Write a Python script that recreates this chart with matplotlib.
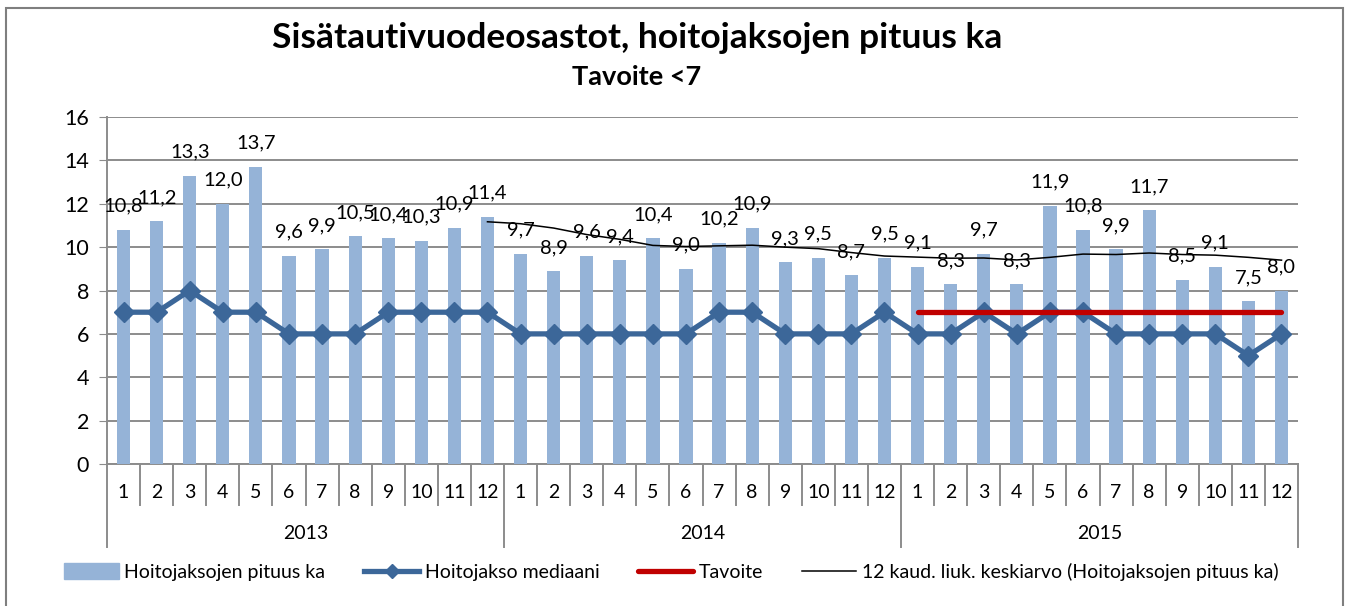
"""Sisätautivuodeosastot - hoitojaksojen pituus, 2013-2015."""

import matplotlib
matplotlib.use("Agg")
import matplotlib.pyplot as plt
from matplotlib.lines import Line2D
from matplotlib.patches import Patch, Rectangle
from matplotlib.transforms import blended_transform_factory

plt.rcParams["font.family"] = ["Lato", "DejaVu Sans"]

years = ["2013", "2014", "2015"]
months = [str(m) for m in range(1, 13)]

# hoitojaksojen pituus ka (bars)
pituus_ka = [
    10.8, 11.2, 13.3, 12.0, 13.7, 9.6, 9.9, 10.5, 10.4, 10.3, 10.9, 11.4,
    9.7, 8.9, 9.6, 9.4, 10.4, 9.0, 10.2, 10.9, 9.3, 9.5, 8.7, 9.5,
    9.1, 8.3, 9.7, 8.3, 11.9, 10.8, 9.9, 11.7, 8.5, 9.1, 7.5, 8.0,
]
# hoitojakso mediaani
mediaani = [
    7, 7, 8, 7, 7, 6, 6, 6, 7, 7, 7, 7,
    6, 6, 6, 6, 6, 6, 7, 7, 6, 6, 6, 7,
    6, 6, 7, 6, 7, 7, 6, 6, 6, 6, 5, 6,
]
# 12 kauden liukuva keskiarvo (starts at 2013/12)
liuk_ka = [
    11.17, 11.08, 10.88, 10.58, 10.36, 10.08, 10.03, 10.06, 10.09, 10.0,
    9.93, 9.75, 9.59, 9.54, 9.49, 9.50, 9.41, 9.53, 9.68, 9.66, 9.73,
    9.66, 9.63, 9.53, 9.40,
]
tavoite = 7
tavoite_start = 24  # index of 2015/1

bar_color = "#95B3D7"
median_color = "#3C6799"
target_color = "#C00000"
grid_color = "#8C8C8C"

n = len(pituus_ka)
x = list(range(n))

fig = plt.figure(figsize=(13.51, 6.06), dpi=100)
ax = fig.add_axes([0.0792, 0.2343, 0.8816, 0.5726])

ax.bar(x, pituus_ka, width=0.4, color=bar_color, zorder=2)
ax.plot(x, mediaani, color=median_color, lw=3.8, marker="D", ms=10.5,
        zorder=4)
ax.plot(x[tavoite_start:], [tavoite] * (n - tavoite_start),
        color=target_color, lw=3.8, solid_capstyle="round", zorder=5)
x_ma = x[n - len(liuk_ka):]
ax.plot(x_ma, liuk_ka, color="black", lw=1.1, zorder=3)

for xi, v in zip(x, pituus_ka):
    ax.annotate(f"{v:.1f}".replace(".", ","), (xi, v), xytext=(0, 17),
                textcoords="offset points", ha="center", va="center",
                fontsize=14.5, zorder=6)

ax.set_xlim(-0.5, n - 0.5)
ax.set_ylim(0, 16)
ax.set_yticks(range(0, 17, 2))
ax.tick_params(axis="y", labelsize=15.5, length=6, color=grid_color, pad=7)
ax.set_xticks([])
ax.grid(axis="y", color=grid_color, lw=1.4, zorder=0)
for side in ["top", "right", "bottom"]:
    ax.spines[side].set_visible(False)
ax.spines["left"].set_color(grid_color)
ax.spines["left"].set_linewidth(1.4)
ax.axhline(0, color=grid_color, lw=1.4, zorder=1, clip_on=False)

# two-level category axis
trans = blended_transform_factory(ax.transData, ax.transAxes)
px = 1.0 / (ax.get_position().height * fig.get_figheight() * fig.dpi)
for i in range(n + 1):
    is_year = i % 12 == 0
    y_end = -83 * px if is_year else -41 * px
    ax.add_line(Line2D([i - 0.5, i - 0.5], [0, y_end], transform=trans,
                       color=grid_color, lw=1.4, clip_on=False))
for i in range(n):
    ax.text(i, -28 * px, months[i % 12], transform=trans, ha="center",
            va="center", fontsize=14)
for k, yr in enumerate(years):
    ax.text(12 * k + 5.5, -69 * px, yr, transform=trans, ha="center",
            va="center", fontsize=14)

fig.text(0.4715, 0.937, "Sisätautivuodeosastot, hoitojaksojen pituus ka",
         ha="center", va="center", fontsize=25.5, fontweight="bold")
fig.text(0.4715, 0.873, "Tavoite <7", ha="center", va="center",
         fontsize=19.5, fontweight="bold")

handles = [
    Patch(color=bar_color),
    Line2D([], [], color=median_color, lw=3.8, marker="D", ms=7),
    Line2D([], [], color=target_color, lw=3.8, solid_capstyle="round"),
    Line2D([], [], color="black", lw=1.1),
]
labels = [
    "Hoitojaksojen pituus ka",
    "Hoitojakso mediaani",
    "Tavoite",
    "12 kaud. liuk. keskiarvo (Hoitojaksojen pituus ka)",
]
fig.legend(handles, labels, loc="center", bbox_to_anchor=(0.497, 0.056),
           ncol=4, frameon=False, fontsize=14, handlelength=2.8,
           handleheight=0.9, handletextpad=0.3, columnspacing=2.0)

fig.add_artist(Rectangle((6 / 1351, -0.05), (1343 - 6) / 1351,
                         1.05 - 8 / 606, transform=fig.transFigure,
                         fill=False, edgecolor="#7F7F7F", lw=1.5))

fig.savefig("out.png", dpi=100)
